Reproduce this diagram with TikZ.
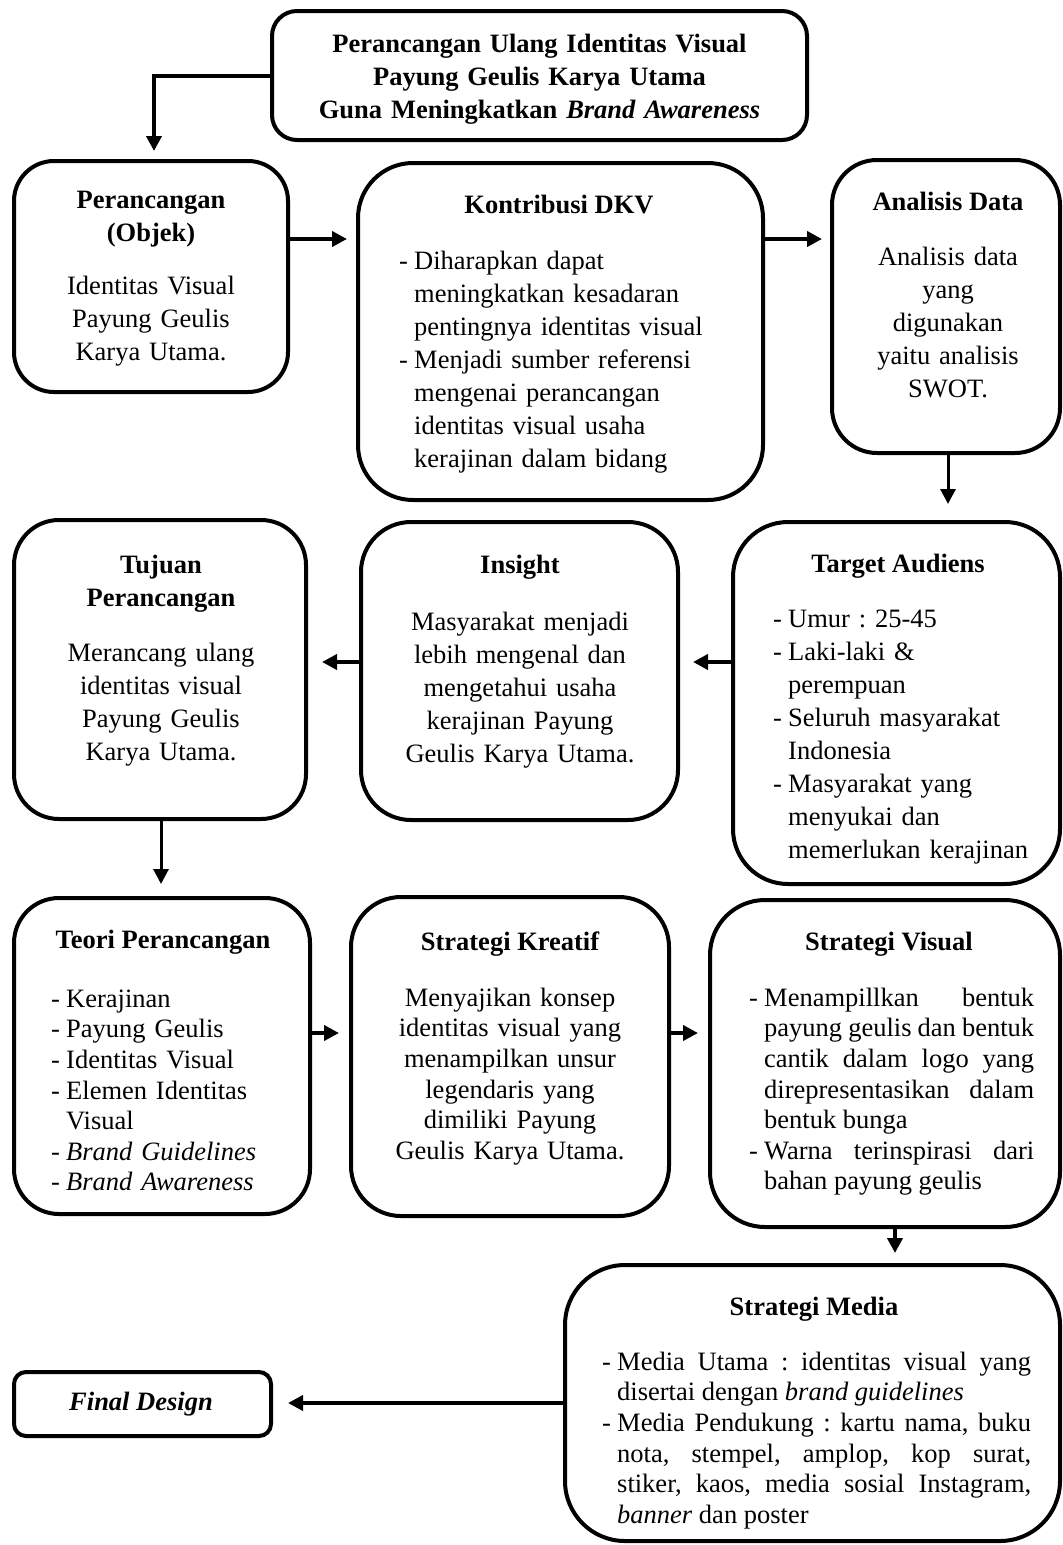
\documentclass[tikz,border=0pt]{standalone}
\usepackage{fontspec}
\setmainfont{Liberation Serif}
\usetikzlibrary{arrows.meta}
\frenchspacing
\newcommand\fA{\fontsize{26.5}{33}\selectfont}
\newcommand\fB{\fontsize{26.5}{30.6}\selectfont}
\newcommand\itmA{\noindent\hangindent=15pt\hangafter=1\strut\makebox[15pt][l]{-}}
\newcommand\itm{\par\itmA}
\begin{document}
\begin{tikzpicture}[x=1pt,y=-1pt,
  bx/.style={draw, line width=4pt, inner sep=0pt, rounded corners=#1},
  ttl/.style={inner sep=0pt, anchor=base, font=\fA\bfseries},
  ctx/.style={inner sep=0pt, anchor=north, text width=600pt, align=center, font=#1, execute at begin node=\strut},
  lst/.style={inner sep=0pt, anchor=north west, text width=#1},
  arr/.style={line width=4.5pt, -{Triangle[length=15pt,width=15pt]}},
]
\useasboundingbox (0,0) rectangle (1063,1545);
\fill[white] (0,0) rectangle (1063,1545);

% top
\node[bx=25pt, minimum width=535pt, minimum height=129pt] (top) at (539.5,75.5) {};
\node[ctx=\fA\bfseries] (top-t) at (539.5,28.9) {Perancangan Ulang Identitas Visual\\Payung Geulis Karya Utama\\Guna Meningkatkan \textit{Brand Awareness}};

% row 1
\node[bx=40pt, minimum width=274pt, minimum height=231pt] (perc) at (151,276.5) {};
\node[ctx=\fA\bfseries] (perc-t) at (151,184.9) {Perancangan\\(Objek)};
\node[ctx=\fA] (perc-b) at (151,270.9) {Identitas Visual\\Payung Geulis\\Karya Utama.};

\node[bx=55pt, minimum width=405pt, minimum height=337pt] (kon) at (560.5,331.5) {};
\node[ttl] (kon-t) at (559,213) {Kontribusi DKV};
\node[lst=350pt, font=\fA, align=left] (kon-b) at (399,245.9) {\itmA Diharapkan dapat\newline meningkatkan kesadaran\newline pentingnya identitas visual\itm Menjadi sumber referensi\newline mengenai perancangan\newline identitas visual usaha\newline kerajinan dalam bidang\par};

\node[bx=45pt, minimum width=228pt, minimum height=293pt] (ana) at (946,306.5) {};
\node[ttl] (ana-t) at (948,210) {Analisis Data};
\node[ctx=\fA] (ana-b) at (948,241.9) {Analisis data\\yang\\digunakan\\yaitu analisis\\SWOT.};

% row 2
\node[bx=45pt, minimum width=292pt, minimum height=299pt] (tuj) at (160,669.5) {};
\node[ctx=\fA\bfseries] (tuj-t) at (161,549.9) {Tujuan\\Perancangan};
\node[ctx=\fA] (tuj-b) at (161,637.9) {Merancang ulang\\identitas visual\\Payung Geulis\\Karya Utama.};

\node[bx=50pt, minimum width=317pt, minimum height=298pt] (ins) at (519.5,671) {};
\node[ttl] (ins-t) at (520,573) {Insight};
\node[ctx=\fA] (ins-b) at (520,606.9) {Masyarakat menjadi\\lebih mengenal dan\\mengetahui usaha\\kerajinan Payung\\Geulis Karya Utama.};

\node[bx=55pt, minimum width=327pt, minimum height=362pt] (tar) at (896.5,703) {};
\node[ttl] (tar-t) at (898,572) {Target Audiens};
\node[lst=285pt, font=\fA, align=left] (tar-b) at (773,603.9) {\itmA Umur : 25-45\itm Laki-laki \&\newline perempuan\itm Seluruh masyarakat\newline Indonesia\itm Masyarakat yang\newline menyukai dan\newline memerlukan kerajinan\par};

% row 3
\node[bx=45pt, minimum width=296pt, minimum height=316pt] (teo) at (162,1056) {};
\node[ttl] (teo-t) at (163,948) {Teori Perancangan};
\node[lst=255pt, font=\fB, align=left] (teo-b) at (51,985.6) {\itmA Kerajinan\itm Payung Geulis\itm Identitas Visual\itm Elemen Identitas\newline Visual\itm \textit{Brand Guidelines}\itm \textit{Brand Awareness}\par};

\node[bx=50pt, minimum width=318pt, minimum height=319pt] (kre) at (510,1056.5) {};
\node[ttl] (kre-t) at (510,950) {Strategi Kreatif};
\node[ctx=\fB] (kre-b) at (510,984.6) {Menyajikan konsep\\identitas visual yang\\menampilkan unsur\\legendaris yang\\dimiliki Payung\\Geulis Karya Utama.};

\node[bx=55pt, minimum width=350pt, minimum height=327pt] (vis) at (885,1063.5) {};
\node[ttl] (vis-t) at (889,950) {Strategi Visual};
\node[lst=285pt, font=\fB, align=justify] (vis-b) at (749,984.6) {\itmA Menampillkan bentuk\linebreak payung geulis dan bentuk\linebreak cantik dalam logo yang\linebreak direpresentasikan dalam\linebreak bentuk bunga\itm Warna terinspirasi dari\linebreak bahan payung geulis\par};

% row 4
\node[bx=60pt, minimum width=495pt, minimum height=276pt] (med) at (812.5,1403) {};
\node[ttl] (med-t) at (814,1315) {Strategi Media};
\node[lst=429pt, font=\fB, align=justify] (med-b) at (602,1348.6) {\itmA Media Utama : identitas visual yang\linebreak disertai dengan \textit{brand guidelines}\itm Media Pendukung : kartu nama, buku\linebreak nota, stempel, amplop, kop surat,\linebreak stiker, kaos, media sosial Instagram,\linebreak \textit{banner} dan poster\par};

\node[bx=12pt, minimum width=257pt, minimum height=64pt] (fin) at (142.5,1404) {};
\node[ttl] (fin-t) at (141,1410) {\textit{Final Design}};

% arrows
\draw[arr, line width=4pt, shorten >=8pt] (top.west) -| ([xshift=3pt]perc.north);
\draw[arr, shorten >=9pt] (perc.east |- 0,239) -- (kon.west |- 0,239);
\draw[arr, shorten >=8pt] (kon.east |- 0,239) -- (ana.west |- 0,239);
\draw[arr, line width=3pt, shorten >=16pt] (ana.south -| 948,0) -- (948,0 |- tar.north);
\draw[arr, shorten >=13pt] (tar.west |- 0,662) -- (ins.east |- 0,662);
\draw[arr, shorten >=14pt] (ins.west |- 0,662) -- (tuj.east |- 0,662);
\draw[arr, line width=3pt, shorten >=12pt] (tuj.south -| 161,0) -- (161,0 |- teo.north);
\draw[arr, shorten >=10pt] (teo.east |- 0,1033) -- (kre.west |- 0,1033);
\draw[arr, shorten >=10pt] (kre.east |- 0,1033) -- (vis.west |- 0,1033);
\draw[arr, line width=4pt, shorten >=10pt] (vis.south -| 895,0) -- (895,0 |- med.north);
\draw[arr, line width=4pt, shorten >=15pt] (med.west |- 0,1403) -- (fin.east |- 0,1403);
\end{tikzpicture}
\end{document}
